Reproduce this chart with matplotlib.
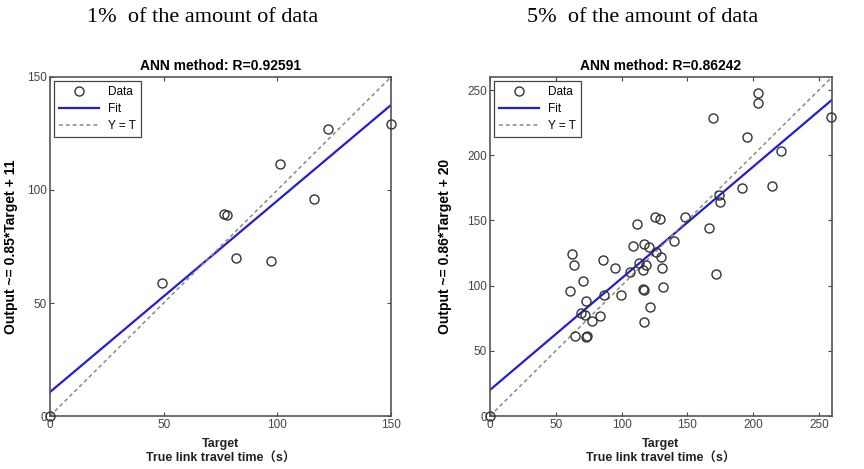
import matplotlib
matplotlib.use("Agg")
import matplotlib.pyplot as plt

plt.rcParams['font.family'] = ['Liberation Sans', 'Noto Sans CJK SC']

# 1% of the data
target_1 = [0, 49.2, 76.6, 77.8, 81.9, 97.2, 101.0, 116.2, 122.3, 150.0]
output_1 = [0, 58.9, 89.4, 89.1, 70.1, 68.5, 111.5, 96.1, 127.0, 129.1]
fit_x_1 = [0, 150]
fit_y_1 = [10.6, 137.6]

# 5% of the data
target_5 = [0, 203.5, 203.5, 169.4, 259.0, 195.7, 221.0, 191.4, 214.1, 174.0,
            174.5, 125.2, 129.5, 148.5, 111.6, 166.4, 139.6, 108.6, 116.9, 121.2,
            126.2, 129.8, 62.6, 63.9, 85.8, 94.7, 113.6, 118.7, 116.2, 130.5,
            106.1, 171.5, 70.6, 60.6, 116.2, 117.0, 131.3, 99.8, 86.4, 73.2,
            69.2, 72.5, 83.3, 77.3, 122.0, 117.4, 64.6, 72.7, 74.0]
output_5 = [0, 248.0, 239.8, 228.6, 229.0, 213.9, 203.2, 175.2, 176.5, 169.6,
            163.8, 152.6, 151.3, 152.6, 147.4, 144.5, 134.2, 130.4, 132.2, 129.9,
            126.1, 122.3, 124.4, 115.7, 119.8, 113.7, 117.7, 115.7, 111.9, 113.4,
            110.8, 109.1, 103.8, 95.6, 97.4, 97.0, 98.6, 92.8, 92.8, 88.5,
            79.3, 77.1, 76.5, 72.7, 83.6, 71.9, 61.5, 60.3, 61.0]
fit_x_5 = [0, 260]
fit_y_5 = [20.0, 242.5]

panels = [
    dict(x=target_1, y=output_1, fx=fit_x_1, fy=fit_y_1, lim=150,
         ticks=[0, 50, 100, 150], head="1%  of the amount of data",
         title="ANN method: R=0.92591", ylab="Output ~= 0.85*Target + 11",
         pos=[50 / 864, 53 / 469, 341 / 864, 339 / 469], ylx=-0.094),
    dict(x=target_5, y=output_5, fx=fit_x_5, fy=fit_y_5, lim=260,
         ticks=[0, 50, 100, 150, 200, 250], head="5%  of the amount of data",
         title="ANN method: R=0.86242", ylab="Output ~= 0.86*Target + 20",
         pos=[490 / 864, 53 / 469, 342 / 864, 339 / 469], ylx=-0.111),
]

fig = plt.figure(figsize=(8.64, 4.69), dpi=100)

for p in panels:
    ax = fig.add_axes(p['pos'])
    ax.plot(p['x'], p['y'], 'o', mfc='none', mec='#333333', ms=6.5, mew=1.0,
            label='Data', clip_on=False, zorder=3)
    ax.plot(p['fx'], p['fy'], '-', color='#2020d0', lw=1.6, label='Fit')
    ax.plot([0, p['lim']], [0, p['lim']], '--', color='#888888', lw=1.1,
            dashes=(2.5, 2), label='Y = T')
    ax.set_xlim(0, p['lim'])
    ax.set_ylim(0, p['lim'])
    ax.set_xticks(p['ticks'])
    ax.set_yticks(p['ticks'])
    ax.tick_params(direction='in', length=3, top=True, right=True, labelsize=8.5,
                   colors='#444444', width=0.8, pad=2)
    for s in ax.spines.values():
        s.set_color('#555555')
        s.set_linewidth(1.2)
    ax.set_title(p['title'], fontsize=10, fontweight='bold', pad=5)
    ax.set_ylabel(p['ylab'], fontsize=10, fontweight='bold')
    ax.yaxis.set_label_coords(p['ylx'], 0.5)
    ax.set_xlabel("Target\nTrue link travel time（s）", fontsize=9, fontweight='bold',
                  linespacing=1.3, color='#222222', labelpad=5)
    leg = ax.legend(loc='upper left', fontsize=8.5, fancybox=False, edgecolor='#444444',
                    handlelength=3.4, borderaxespad=0.35, labelspacing=0.45,
                    framealpha=1)
    leg.get_frame().set_linewidth(0.9)
    cx = p['pos'][0] + p['pos'][2] / 2
    fig.text(cx - 18 / 864, 1 - 17 / 469, p['head'], ha='center', va='center',
             fontsize=16, family='Liberation Serif')

fig.savefig("out.png", dpi=100)
